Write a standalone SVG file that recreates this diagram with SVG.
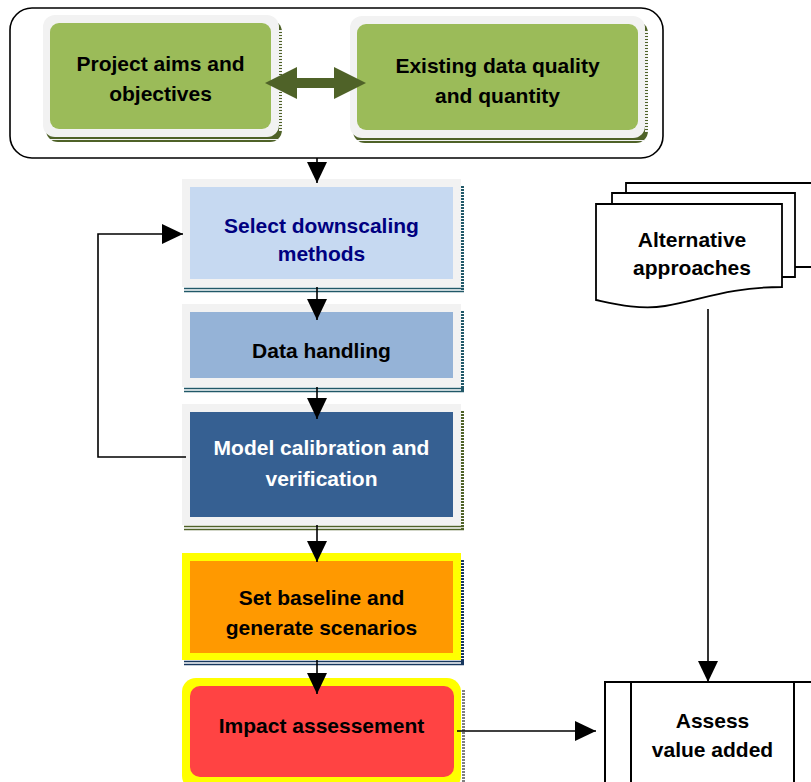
<svg xmlns="http://www.w3.org/2000/svg" width="811" height="782" viewBox="0 0 811 782">
<style>
text{font-family:"Liberation Sans",Arial,sans-serif;font-weight:bold;font-size:21px;text-anchor:middle;fill:#000}
.frame{fill:#F2F2F2}
.edge{fill:none;stroke:#000;stroke-width:1.6}
.conn{fill:none;stroke:#000;stroke-width:1.6}
.dash{fill:none;stroke-width:3;stroke-dasharray:2 1}
.dbl{fill:none;stroke-width:1.5}
.doc{fill:#fff;stroke:#000;stroke-width:1.8}
</style>
<defs>
<marker id="ah" markerUnits="userSpaceOnUse" markerWidth="21" markerHeight="20" refX="21" refY="10" orient="auto">
<path d="M0,0 L21,10 L0,20 Z" fill="#000"/>
</marker>
</defs>
<rect width="811" height="782" fill="#fff"/>

<g id="outer-group">
<rect x="10" y="8" width="653" height="150" rx="22" class="edge"/>
</g>

<g id="node-aims">
<rect x="46" y="20" width="236" height="122" rx="12" fill="#4F6228"/>
<path d="M50,139.5 H279" stroke="#F2F2F2" stroke-width="1"/>
<line x1="280.5" y1="30" x2="280.5" y2="132" class="dash" stroke="#F2F2F2"/>
<rect x="43" y="15" width="236" height="122" rx="12" class="frame"/>
<rect x="50" y="23" width="221" height="106" rx="9" fill="#9BBB59"/>
<text x="160.5" y="71">Project aims and</text>
<text x="160.5" y="101">objectives</text>
</g>

<g id="node-existing">
<rect x="353" y="21" width="295" height="122" rx="12" fill="#4F6228"/>
<path d="M357,140.5 H645" stroke="#F2F2F2" stroke-width="1"/>
<line x1="646.5" y1="31" x2="646.5" y2="133" class="dash" stroke="#F2F2F2"/>
<rect x="350" y="16" width="295" height="122" rx="12" class="frame"/>
<rect x="357" y="24" width="281" height="106" rx="9" fill="#9BBB59"/>
<text x="497.5" y="73">Existing data quality</text>
<text x="497.5" y="103">and quantity</text>
</g>

<g id="double-arrow">
<path d="M265,83 L297,67 L297,78 L334,78 L334,67 L366,83 L334,99 L334,88 L297,88 L297,99 Z" fill="#4F6228"/>
</g>

<g id="node-select">
<rect x="182" y="179" width="279" height="108" class="frame"/>
<rect x="190" y="187" width="263" height="92" fill="#C6D9F1"/>
<path d="M184,288.5 H464 M184,291.5 H464" class="dbl" stroke="#215868"/>
<line x1="462.5" y1="186" x2="462.5" y2="292" class="dash" stroke="#215868"/>
<text x="321.5" y="233" style="fill:#000080">Select downscaling</text>
<text x="321.5" y="261" style="fill:#000080">methods</text>
</g>

<g id="node-data">
<rect x="182" y="304" width="279" height="83" class="frame"/>
<rect x="190" y="312" width="263" height="66" fill="#95B3D7"/>
<path d="M184,388.5 H464 M184,391.5 H464" class="dbl" stroke="#215868"/>
<line x1="462.5" y1="311" x2="462.5" y2="392" class="dash" stroke="#215868"/>
<text x="321.5" y="358">Data handling</text>
</g>

<g id="node-model">
<rect x="182" y="404" width="279" height="121" class="frame"/>
<rect x="190" y="412" width="263" height="105" fill="#366092"/>
<path d="M184,526.5 H464 M184,529.5 H464" class="dbl" stroke="#4F6228"/>
<line x1="462.5" y1="411" x2="462.5" y2="530" class="dash" stroke="#4F6228"/>
<text x="321.5" y="455" style="fill:#fff">Model calibration and</text>
<text x="321.5" y="486" style="fill:#fff">verification</text>
</g>

<g id="node-baseline">
<rect x="182" y="553" width="279" height="107" fill="#FFFF00"/>
<rect x="190" y="561" width="263" height="92" fill="#FF9900"/>
<path d="M184,661.5 H464 M184,664.5 H464" class="dbl" stroke="#17375E"/>
<line x1="462.5" y1="560" x2="462.5" y2="665" class="dash" stroke="#17375E"/>
<text x="321.5" y="605">Set baseline and</text>
<text x="321.5" y="635">generate scenarios</text>
</g>

<g id="node-impact">
<line x1="463.5" y1="690" x2="463.5" y2="782" class="dash" stroke="#808080"/>
<rect x="182" y="678" width="279" height="112" rx="14" fill="#FFFF00"/>
<rect x="190" y="686" width="264" height="91" rx="10" fill="#FF4343"/>
<text x="321.5" y="733">Impact assessement</text>
</g>

<g id="node-alternative">
<path d="M626,193 V183 H830 V267 H795" class="doc"/>
<path d="M612,204 V193 H795 V277 H782" class="doc"/>
<path d="M596,204 H782 V287 C730,287 700,300 665,306 C640,310 615,304 596,300 Z" class="doc"/>
<text x="692" y="247">Alternative</text>
<text x="692" y="275">approaches</text>
</g>

<g id="node-assess">
<rect x="605" y="682" width="230" height="130" fill="#fff" stroke="#000" stroke-width="2"/>
<line x1="631" y1="682" x2="631" y2="782" stroke="#000" stroke-width="2"/>
<line x1="794" y1="682" x2="794" y2="782" stroke="#000" stroke-width="2"/>
<text x="712.5" y="728">Assess</text>
<text x="712.5" y="757">value added</text>
</g>

<g id="connectors">
<path d="M317,158 V183" class="conn" marker-end="url(#ah)"/>
<path d="M317,287 V320" class="conn" marker-end="url(#ah)"/>
<path d="M317,387 V419" class="conn" marker-end="url(#ah)"/>
<path d="M317,525 V562" class="conn" marker-end="url(#ah)"/>
<path d="M317,660 V694" class="conn" marker-end="url(#ah)"/>
<path d="M186,457 H98 V234 H183" class="conn" marker-end="url(#ah)"/>
<path d="M457,731 H596" class="conn" marker-end="url(#ah)"/>
<path d="M708,309 V682" class="conn" marker-end="url(#ah)"/>
</g>
</svg>
